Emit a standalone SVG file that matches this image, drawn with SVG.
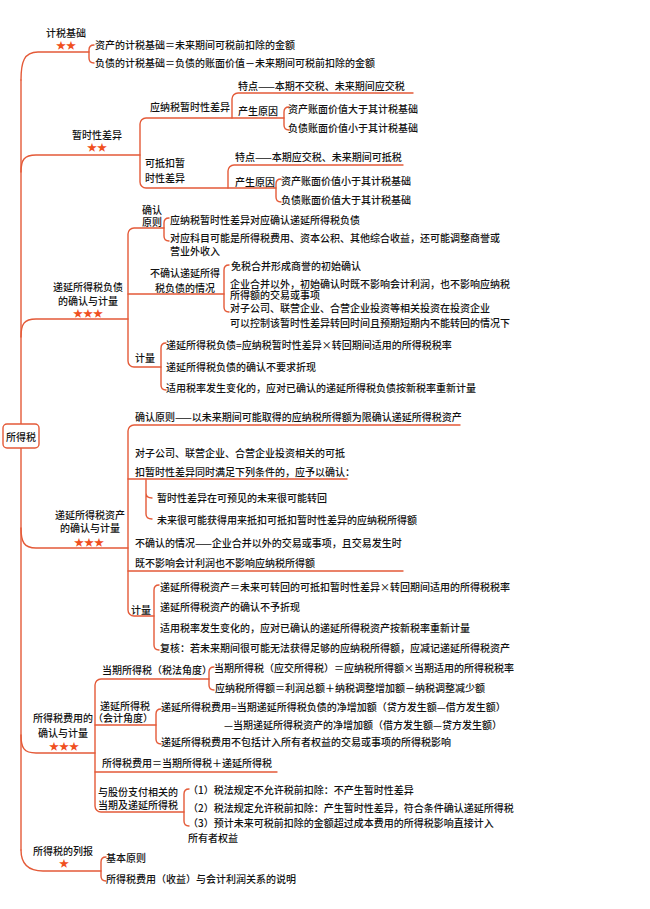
<svg xmlns="http://www.w3.org/2000/svg" width="650" height="909" viewBox="0 0 650 909">
<style>
.t{font-family:"Noto Sans CJK SC","Noto Sans CJK JP",sans-serif;font-size:10px;font-weight:500;fill:#111}
.c{text-anchor:middle}
.e{text-anchor:end}
.s{font-family:"Noto Sans CJK SC","DejaVu Sans",sans-serif;font-size:10px;fill:#f0501e;text-anchor:middle}
.ln{fill:none;stroke:#e45a38;stroke-width:1.4;stroke-linecap:round;stroke-linejoin:round}
</style>
<rect width="650" height="909" fill="#fff"/>
<g id="connectors" class="ln">
<path d="M21,80 L21,850"/>
<path d="M21,80 C21,62 24,52 38,52 L89,52"/>
<path d="M94,45 Q89,45 89,50 L89,58 Q89,63 94,63"/>
<path d="M21,172 C21,160 24,155 36,155 L140,155"/>
<path d="M284,118 L146,118 A6,6 0 0 0 140,124 L140,182 A6,6 0 0 0 146,188 L276,188"/>
<path d="M232,118 L232,99 A6,6 0 0 1 238,93 L413,93"/>
<path d="M289,107 Q284,107 284,112 L284,125 Q284,130 289,130"/>
<path d="M228,188 L228,171 A6,6 0 0 1 234,165 L403,165"/>
<path d="M281,179 Q276,179 276,184 L276,197 Q276,202 281,202"/>
<path d="M21,337 C21,324 24,319 36,319 L128,319"/>
<path d="M164,228 L134,228 A6,6 0 0 0 128,234 L128,361 A6,6 0 0 0 134,367 L161,367"/>
<path d="M128,294 L224,294"/>
<path d="M169,218 Q164,218 164,223 L164,236 Q164,241 169,241"/>
<path d="M229,265 Q224,265 224,270 L224,307 Q224,312 229,312"/>
<path d="M166,343 Q161,343 161,348 L161,385 Q161,390 166,390"/>
<path d="M21,528 C21,542 24,548 36,548 L128,548"/>
<path d="M460,425 L134,425 A6,6 0 0 0 128,431 L128,610 A6,6 0 0 0 134,616 L154,616"/>
<path d="M128,479 L347,479"/>
<path d="M128,571 L403,571"/>
<path d="M146,479 L146,514 Q146,519 152,519 M146,493 Q146,498 152,498"/>
<path d="M159,585 Q154,585 154,590 L154,645 Q154,650 159,650"/>
<path d="M21,735 C21,748 24,753 36,753 L95,753"/>
<path d="M209,679 L101,679 A6,6 0 0 0 95,685 L95,806 A6,6 0 0 0 101,812 L184,812"/>
<path d="M95,725 L156,725"/>
<path d="M95,772 L277,772"/>
<path d="M214,667 Q209,667 209,672 L209,685 Q209,690 214,690"/>
<path d="M161,709 Q156,709 156,714 L156,739 Q156,744 161,744"/>
<path d="M189,789 Q184,789 184,794 L184,821 Q184,826 189,826"/>
<path d="M21,850 C21,864 28,871 43,871 L101,871"/>
<path d="M106,857 Q101,857 101,862 L101,876 Q101,881 106,881"/>
</g>
<g id="root"><rect x="3" y="424" width="36" height="24" rx="4" fill="#fff" stroke="#e45a38" stroke-width="1.4"/><text class="t c" x="21" y="441">所得税</text></g>
<g id="n-jishui"><text class="t c" x="66" y="37">计税基础</text><text class="s" x="66" y="49">★★</text></g>
<g id="n-jishui-1"><text class="t" x="95" y="49">资产的计税基础＝未来期间可税前扣除的金额</text></g>
<g id="n-jishui-2"><text class="t" x="95" y="67">负债的计税基础＝负债的账面价值－未来期间可税前扣除的金额</text></g>
<g id="n-zanshi"><text class="t c" x="97" y="139">暂时性差异</text><text class="s" x="97" y="151">★★</text></g>
<g id="n-yingna"><text class="t" x="150" y="111">应纳税暂时性差异</text></g>
<g id="n-yingna-td"><text class="t" x="238" y="90">特点——本期不交税、未来期间应交税</text></g>
<g id="n-yingna-yy"><text class="t" x="238" y="115">产生原因</text></g>
<g id="n-yingna-yy1"><text class="t" x="288" y="113">资产账面价值大于其计税基础</text></g>
<g id="n-yingna-yy2"><text class="t" x="288" y="132">负债账面价值小于其计税基础</text></g>
<g id="n-kedi"><text class="t" x="145" y="167">可抵扣暂</text><text class="t" x="145" y="182">时性差异</text></g>
<g id="n-kedi-td"><text class="t" x="235" y="161">特点——本期应交税、未来期间可抵税</text></g>
<g id="n-kedi-yy"><text class="t" x="235" y="186">产生原因</text></g>
<g id="n-kedi-yy1"><text class="t" x="281" y="185">资产账面价值小于其计税基础</text></g>
<g id="n-kedi-yy2"><text class="t" x="281" y="204">负债账面价值大于其计税基础</text></g>
<g id="n-dtl"><text class="t c" x="88" y="291">递延所得税负债</text><text class="t c" x="88" y="305">的确认与计量</text><text class="s" x="88" y="317">★★★</text></g>
<g id="n-dtl-yz"><text class="t" x="142" y="214">确认</text><text class="t" x="142" y="226">原则</text></g>
<g id="n-dtl-yz1"><text class="t" x="170" y="224">应纳税暂时性差异对应确认递延所得税负债</text></g>
<g id="n-dtl-yz2"><text class="t" x="170" y="242">对应科目可能是所得税费用、资本公积、其他综合收益，还可能调整商誉或</text><text class="t" x="170" y="255">营业外收入</text></g>
<g id="n-dtl-bq"><text class="t c" x="185" y="277">不确认递延所得</text><text class="t c" x="185" y="292">税负债的情况</text></g>
<g id="n-dtl-bq1"><text class="t" x="231" y="270">免税合并形成商誉的初始确认</text></g>
<g id="n-dtl-bq2"><text class="t" x="230" y="288">企业合并以外，初始确认时既不影响会计利润，也不影响应纳税</text><text class="t" x="230" y="299">所得额的交易或事项</text></g>
<g id="n-dtl-bq3"><text class="t" x="230" y="312">对子公司、联营企业、合营企业投资等相关投资在投资企业</text><text class="t" x="230" y="327">可以控制该暂时性差异转回时间且预期短期内不能转回的情况下</text></g>
<g id="n-dtl-jl"><text class="t" x="135" y="362">计量</text></g>
<g id="n-dtl-jl1"><text class="t" x="166" y="349">递延所得税负债=应纳税暂时性差异×转回期间适用的所得税税率</text></g>
<g id="n-dtl-jl2"><text class="t" x="166" y="371">递延所得税负债的确认不要求折现</text></g>
<g id="n-dtl-jl3"><text class="t" x="166" y="392">适用税率发生变化的，应对已确认的递延所得税负债按新税率重新计量</text></g>
<g id="n-dta"><text class="t c" x="90" y="519">递延所得税资产</text><text class="t c" x="90" y="532">的确认与计量</text><text class="s" x="89" y="546">★★★</text></g>
<g id="n-dta-yz"><text class="t" x="135" y="421">确认原则——以未来期间可能取得的应纳税所得额为限确认递延所得税资产</text></g>
<g id="n-dta-zgs"><text class="t" x="135" y="457">对子公司、联营企业、合营企业投资相关的可抵</text><text class="t" x="135" y="476">扣暂时性差异同时满足下列条件的，应予以确认：</text></g>
<g id="n-dta-zgs1"><text class="t" x="157" y="502">暂时性差异在可预见的未来很可能转回</text></g>
<g id="n-dta-zgs2"><text class="t" x="157" y="524">未来很可能获得用来抵扣可抵扣暂时性差异的应纳税所得额</text></g>
<g id="n-dta-bq"><text class="t" x="135" y="547">不确认的情况——企业合并以外的交易或事项，且交易发生时</text><text class="t" x="135" y="567">既不影响会计利润也不影响应纳税所得额</text></g>
<g id="n-dta-jl"><text class="t" x="131" y="614">计量</text></g>
<g id="n-dta-jl1"><text class="t" x="160" y="591">递延所得税资产＝未来可转回的可抵扣暂时性差异×转回期间适用的所得税税率</text></g>
<g id="n-dta-jl2"><text class="t" x="160" y="611">递延所得税资产的确认不予折现</text></g>
<g id="n-dta-jl3"><text class="t" x="160" y="632">适用税率发生变化的，应对已确认的递延所得税资产按新税率重新计量</text></g>
<g id="n-dta-jl4"><text class="t" x="160" y="652">复核：若未来期间很可能无法获得足够的应纳税所得额，应减记递延所得税资产</text></g>
<g id="n-fy"><text class="t c" x="63" y="722">所得税费用的</text><text class="t c" x="63" y="737">确认与计量</text><text class="s" x="64" y="750">★★★</text></g>
<g id="n-fy-dq"><text class="t" x="102" y="674">当期所得税（税法角度）</text></g>
<g id="n-fy-dq1"><text class="t" x="214" y="672">当期所得税（应交所得税）＝应纳税所得额×当期适用的所得税税率</text></g>
<g id="n-fy-dq2"><text class="t" x="215" y="692">应纳税所得额＝利润总额＋纳税调整增加额－纳税调整减少额</text></g>
<g id="n-fy-dy"><text class="t c" x="125" y="710">递延所得税</text><text class="t c" x="123" y="722">（会计角度）</text></g>
<g id="n-fy-dy1"><text class="t" x="161" y="711">递延所得税费用=当期递延所得税负债的净增加额（贷方发生额—借方发生额）</text><text class="t e" x="502" y="729">—当期递延所得税资产的净增加额（借方发生额—贷方发生额）</text></g>
<g id="n-fy-dy2"><text class="t" x="161" y="746">递延所得税费用不包括计入所有者权益的交易或事项的所得税影响</text></g>
<g id="n-fy-hj"><text class="t" x="102" y="767">所得税费用＝当期所得税＋递延所得税</text></g>
<g id="n-fy-gf"><text class="t" x="98" y="796">与股份支付相关的</text><text class="t" x="98" y="809">当期及递延所得税</text></g>
<g id="n-fy-gf1"><text class="t" x="188" y="794">（1）税法规定不允许税前扣除：不产生暂时性差异</text></g>
<g id="n-fy-gf2"><text class="t" x="188" y="812">（2）税法规定允许税前扣除：产生暂时性差异，符合条件确认递延所得税</text></g>
<g id="n-fy-gf3"><text class="t" x="188" y="827">（3）预计未来可税前扣除的金额超过成本费用的所得税影响直接计入</text><text class="t" x="188" y="842">所有者权益</text></g>
<g id="n-lb"><text class="t c" x="63" y="855">所得税的列报</text><text class="s" x="64" y="867">★</text></g>
<g id="n-lb1"><text class="t" x="106" y="862">基本原则</text></g>
<g id="n-lb2"><text class="t" x="106" y="883">所得税费用（收益）与会计利润关系的说明</text></g>
</svg>
